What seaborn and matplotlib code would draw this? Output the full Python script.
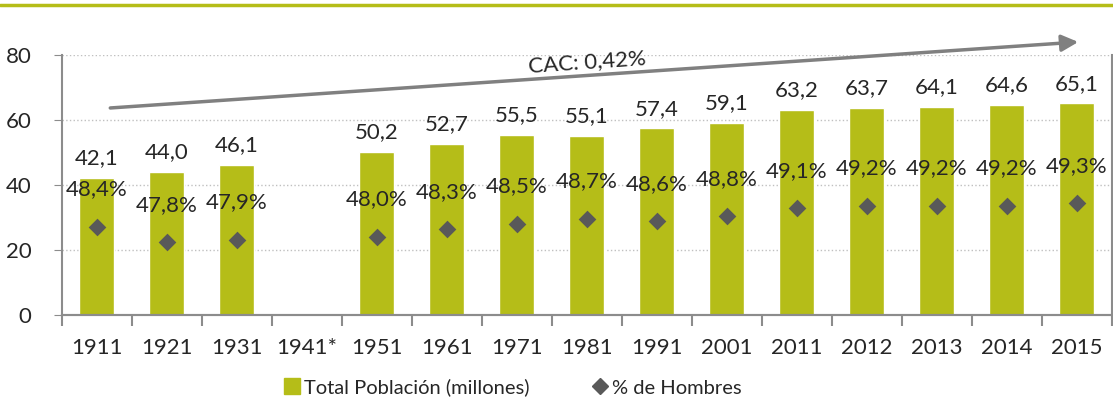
import numpy as np
import pandas as pd
import seaborn as sns
import matplotlib.pyplot as plt
from matplotlib.lines import Line2D

# data
years = ["1911", "1921", "1931", "1941*", "1951", "1961", "1971", "1981",
         "1991", "2001", "2011", "2012", "2013", "2014", "2015"]
total = [42.1, 44.0, 46.1, np.nan, 50.2, 52.7, 55.5, 55.1,
         57.4, 59.1, 63.2, 63.7, 64.1, 64.6, 65.1]
hombres = [48.4, 47.8, 47.9, np.nan, 48.0, 48.3, 48.5, 48.7,
           48.6, 48.8, 49.1, 49.2, 49.2, 49.2, 49.3]

df = pd.DataFrame({"year": years, "total": total, "hombres": hombres})

green = "#B5BD18"
dgray = "#595959"
axgray = "#8C8C8C"

sns.set_style("white")
plt.rcParams["font.family"] = ["Lato", "DejaVu Sans"]
fs = 16


def coma(v):
    return f"{v:.1f}".replace(".", ",")


fig = plt.figure(figsize=(11.13, 4.05), dpi=100)
ax = fig.add_axes([0.0557, 0.2222, 0.9433, 0.642])

sns.barplot(data=df, x="year", y="total", order=years, color=green,
            width=0.5, saturation=1, ax=ax)
ax.bar_label(ax.containers[0], fmt=coma, padding=7, fontsize=fs)

ax.set_ylim(0, 80)
ax.set_xlim(-0.5, len(years) - 0.5)
ax.set_yticks([0, 20, 40, 60, 80])
ax.set_xlabel("")
ax.set_ylabel("")
ax.yaxis.grid(True, linestyle=":", color="#C0C0C0", linewidth=1)
ax.set_axisbelow(True)
ax.tick_params(axis="y", labelsize=fs, left=True, length=6, color=axgray, pad=16)
ax.tick_params(axis="x", labelsize=fs, bottom=False, pad=13)
ax.set_xticks(np.arange(-0.5, len(years), 1.0), minor=True)
ax.tick_params(axis="x", which="minor", bottom=True, length=8, color=axgray, width=1.5)

# hidden secondary scale for % de hombres
ax2 = ax.twinx()
sns.stripplot(data=df, x="year", y="hombres", order=years, marker="D",
              jitter=False, size=9, color=dgray, ax=ax2, zorder=3)
ax2.set_ylim(45, 55)
ax2.set_yticks([])
ax2.set_ylabel("")
ax2.set_xlim(-0.5, len(years) - 0.5)
for i, p in enumerate(hombres):
    if not np.isnan(p):
        ax2.annotate(coma(p) + "%", (i, p), xytext=(0, 27), textcoords="offset points",
                     ha="center", va="center", fontsize=fs)

for a in (ax, ax2):
    a.spines["top"].set_visible(False)
    for s in ("left", "bottom", "right"):
        a.spines[s].set_color(axgray)
        a.spines[s].set_linewidth(1.5)
ax.spines["right"].set_visible(False)
ax2.spines["left"].set_visible(False)

# CAC trend arrow
ax.annotate("", xy=(14.02, 84), xytext=(0.19, 63.7), annotation_clip=False,
            arrowprops=dict(arrowstyle="-|>", color="#808080", lw=2.5, mutation_scale=25,
                            shrinkA=0, shrinkB=0))
ax.text(7.0, 77.8, "CAC: 0,42%", rotation=3.9, ha="center", va="center", fontsize=fs)

# top rule
fig.add_artist(Line2D([0, 1], [0.988, 0.988], color=green, lw=2.5, transform=fig.transFigure))

handles = [
    Line2D([], [], marker="s", linestyle="none", color=green, markersize=12),
    Line2D([], [], marker="D", linestyle="none", color=dgray, markersize=8),
]
fig.legend(handles, ["Total Población (millones)", "% de Hombres"], loc="center",
           bbox_to_anchor=(0.46, 0.043), ncol=2, frameon=False, fontsize=14.5,
           handletextpad=0.1, columnspacing=3.0, handlelength=1.0)

fig.savefig("out.png", dpi=100)
